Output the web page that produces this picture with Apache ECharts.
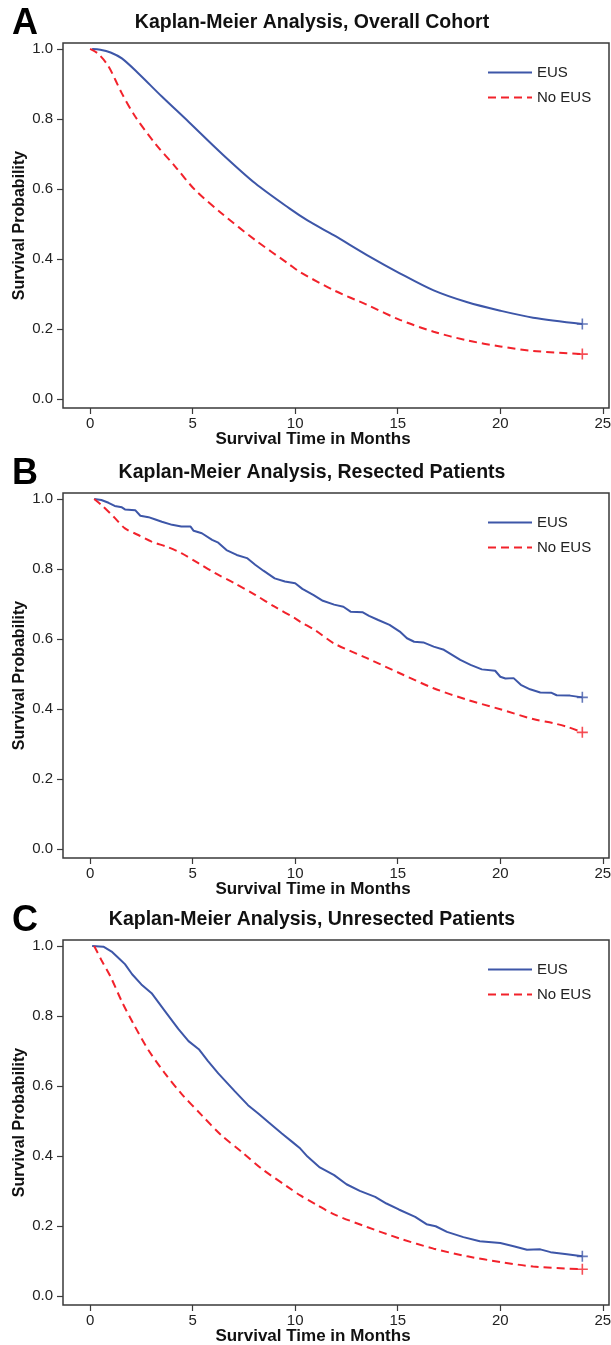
<!DOCTYPE html>
<html>
<head>
<meta charset="utf-8">
<script src="https://cdn.jsdelivr.net/npm/echarts@6/dist/echarts.min.js"></script>
<style>
  html, body { margin: 0; padding: 0; background: #fff; }
  #main { width: 611px; height: 1345px; }
</style>
</head>
<body>
<div id="main"></div>
<script>
// 刻度
const monthTicks = [0, 5, 10, 15, 20, 25];
const probTicks = [0, 0.2, 0.4, 0.6, 0.8, 1.0];
const groupNames = ['EUS', 'No EUS'];
const panelLetters = ['A', 'B', 'C'];
const panelTitles = [
  'Kaplan-Meier Analysis, Overall Cohort',
  'Kaplan-Meier Analysis, Resected Patients',
  'Kaplan-Meier Analysis, Unresected Patients',
];

// A: overall cohort [month, survival]
const overallEus = [[0.1, 1.0], [0.5, 0.998], [1.0, 0.99], [1.55, 0.973], [2.36, 0.93], [3.5, 0.864],
  [4.8, 0.792], [6.4, 0.702], [8.05, 0.616], [9.7, 0.545], [10.6, 0.51], [11.9, 0.467], [13.5, 0.411],
  [15.1, 0.359], [16.75, 0.31], [18.4, 0.276], [20.0, 0.252], [21.6, 0.232], [24, 0.214]];
const overallNoEus = [[0, 1.0], [0.4, 0.986], [0.9, 0.95], [1.55, 0.873], [2.2, 0.807], [3.17, 0.73],
  [4.15, 0.664], [5.12, 0.597], [6.42, 0.53], [8.05, 0.454], [9.7, 0.385], [10.25, 0.362], [11.9, 0.31],
  [13.5, 0.269], [15.1, 0.226], [16.75, 0.192], [18.4, 0.167], [20, 0.15], [21.6, 0.137], [24, 0.128]];

// B: resected patients
const resectedEus = [[0.2, 1.0], [0.55, 0.997], [0.9, 0.989], [1.2, 0.98], [1.55, 0.976], [1.7, 0.97],
  [2.2, 0.968], [2.45, 0.952], [2.85, 0.948], [3.15, 0.942], [3.5, 0.935], [4.0, 0.926], [4.45, 0.921],
  [4.9, 0.921], [5.05, 0.909], [5.45, 0.902], [5.95, 0.883], [6.25, 0.875], [6.65, 0.854], [7.15, 0.84],
  [7.65, 0.831], [8.05, 0.812], [8.45, 0.795], [9.0, 0.773], [9.5, 0.764], [10.0, 0.759], [10.35, 0.743],
  [10.9, 0.725], [11.35, 0.709], [11.9, 0.698], [12.35, 0.692], [12.7, 0.678], [13.3, 0.676], [13.6, 0.666],
  [14.05, 0.654], [14.6, 0.64], [15.1, 0.621], [15.45, 0.602], [15.8, 0.592], [16.25, 0.59], [16.75, 0.578],
  [17.25, 0.569], [17.75, 0.551], [18.05, 0.54], [18.55, 0.526], [19.1, 0.513], [19.75, 0.509], [20.0, 0.492],
  [20.25, 0.487], [20.65, 0.488], [21.0, 0.469], [21.45, 0.456], [21.95, 0.447], [22.5, 0.446], [22.75, 0.439],
  [23.4, 0.438], [24, 0.433]];
const resectedNoEus = [[0.2, 1.0], [0.55, 0.983], [1.15, 0.949], [1.7, 0.916], [2.35, 0.897], [3.0, 0.878],
  [3.8, 0.862], [4.45, 0.845], [5.3, 0.816], [6.1, 0.788], [7.05, 0.759], [8.05, 0.726], [9.0, 0.692],
  [10.0, 0.659], [10.25, 0.649], [11.0, 0.624], [11.9, 0.587], [13.5, 0.545], [15.1, 0.502], [16.75, 0.459],
  [18.4, 0.426], [20.0, 0.399], [21.6, 0.371], [22.6, 0.359], [23.25, 0.349], [24, 0.333]];

// C: unresected patients
const unresectedEus = [[0.1, 1.0], [0.65, 0.998], [1.05, 0.984], [1.45, 0.962], [1.7, 0.948], [2.05, 0.919],
  [2.5, 0.89], [3.0, 0.865], [3.65, 0.814], [4.3, 0.763], [4.8, 0.728], [5.3, 0.705], [5.75, 0.671],
  [6.25, 0.636], [7.05, 0.585], [7.7, 0.545], [8.2, 0.521], [8.7, 0.496], [9.35, 0.464], [9.9, 0.438],
  [10.25, 0.421], [10.6, 0.398], [11.2, 0.367], [11.9, 0.345], [12.5, 0.319], [13.15, 0.3], [13.9, 0.283],
  [14.45, 0.264], [15.05, 0.247], [15.85, 0.226], [16.4, 0.205], [16.85, 0.199], [17.4, 0.183], [18.2, 0.168],
  [19.0, 0.156], [20.0, 0.151], [20.65, 0.142], [21.3, 0.132], [21.95, 0.133], [22.45, 0.125], [23.25, 0.119],
  [24, 0.113]];
const unresectedNoEus = [[0.2, 1.0], [0.55, 0.96], [1.0, 0.912], [1.55, 0.841], [2.1, 0.779], [2.85, 0.702],
  [3.65, 0.636], [4.45, 0.578], [5.45, 0.516], [6.4, 0.459], [7.4, 0.411], [8.35, 0.364], [9.65, 0.311],
  [10.25, 0.287], [11.0, 0.262], [11.9, 0.233], [13.5, 0.197], [15.1, 0.164], [16.75, 0.135], [18.4, 0.113],
  [20.0, 0.097], [21.6, 0.084], [24, 0.076]];

const panelData = [
  [overallEus, overallNoEus],
  [resectedEus, resectedNoEus],
  [unresectedEus, unresectedNoEus],
];

// 布局
const panelTops = [43, 493, 940];
const plotHeight = 365;
const blue = '#3D56A8';
const red = '#F2222B';
const axisColor = '#3a3a3a';
const font = 'Liberation Sans, Arial, sans-serif';
const plusPath = 'path://M0,5L10,5M5,0L5,10';

window.onload = function () {
  const chart = echarts.init(document.getElementById('main'));
  chart.setOption(buildOption());
};

function buildOption() {
  const grid = [];
  const xAxis = [];
  const yAxis = [];
  const legend = [];
  const series = [];
  const graphic = [];

  panelTops.forEach((top, i) => {
    grid.push({
      left: 63, right: 2, top, height: plotHeight,
      outerBoundsMode: 'none', containLabel: false,
      show: true, borderColor: axisColor, borderWidth: 1.5,
    });
    xAxis.push({
      type: 'value', gridIndex: i, min: -1.32, max: 25.3,
      axisLine: { show: false, onZero: false },
      axisTick: { show: true, length: 6, customValues: monthTicks, lineStyle: { color: axisColor, width: 1.2 } },
      axisLabel: { customValues: monthTicks, color: '#222', fontSize: 15, fontFamily: font, margin: 8 },
      splitLine: { show: false },
      name: 'Survival Time in Months',
      nameLocation: 'middle', nameGap: 23, nameMoveOverlap: false,
      nameTextStyle: { fontSize: 17, fontWeight: 'bold', color: '#111', fontFamily: font, padding: [0, 46, 0, 0] },
    });
    yAxis.push({
      type: 'value', gridIndex: i, min: -0.026, max: 1.017,
      axisLine: { show: false, onZero: false },
      axisTick: { show: true, length: 6, customValues: probTicks, lineStyle: { color: axisColor, width: 1.2 } },
      axisLabel: {
        customValues: probTicks, color: '#222', fontSize: 15, fontFamily: font, margin: 10,
        formatter: v => v.toFixed(1),
      },
      splitLine: { show: false },
      name: 'Survival Probability',
      nameLocation: 'middle', nameGap: 35, nameMoveOverlap: false,
      nameTextStyle: { fontSize: 16, fontWeight: 'bold', color: '#111', fontFamily: font },
    });
    legend.push({
      orient: 'vertical', left: 482, top: top + 17,
      itemWidth: 44, itemHeight: 14, itemGap: 10,
      data: groupNames, selectedMode: false,
      itemStyle: { color: 'rgba(0,0,0,0)', borderWidth: 0 },
      textStyle: { fontSize: 15, color: '#222', fontFamily: font },
    });

    // 两组生存曲线 + 删失标记
    panelData[i].forEach((curve, g) => {
      const color = g === 0 ? blue : red;
      series.push({
        name: groupNames[g], type: 'line', xAxisIndex: i, yAxisIndex: i,
        data: curve, symbol: 'none', showSymbol: false,
        smooth: i === 0 || g === 1 ? 0.3 : false,
        lineStyle: { color, width: 2, type: g === 0 ? 'solid' : [8, 5] },
        itemStyle: { color },
      });
      series.push({
        type: 'scatter', xAxisIndex: i, yAxisIndex: i,
        data: [curve[curve.length - 1]],
        symbol: plusPath, symbolSize: 11,
        itemStyle: { color: 'rgba(0,0,0,0)', borderColor: color, borderWidth: 1.6 },
      });
    });

    // 标题与字母
    graphic.push({
      type: 'text', left: 12, top: top - 37,
      style: { text: panelLetters[i], font: 'bold 36px ' + font, fill: '#000' },
    });
    graphic.push({
      type: 'text', x: 312, y: top - 20,
      style: { text: panelTitles[i], font: 'bold 19.5px ' + font, fill: '#111', align: 'center', verticalAlign: 'middle' },
    });
  });

  return {
    animation: false,
    backgroundColor: '#fff',
    grid, xAxis, yAxis, legend, series, graphic,
  };
}
</script>
</body>
</html>
